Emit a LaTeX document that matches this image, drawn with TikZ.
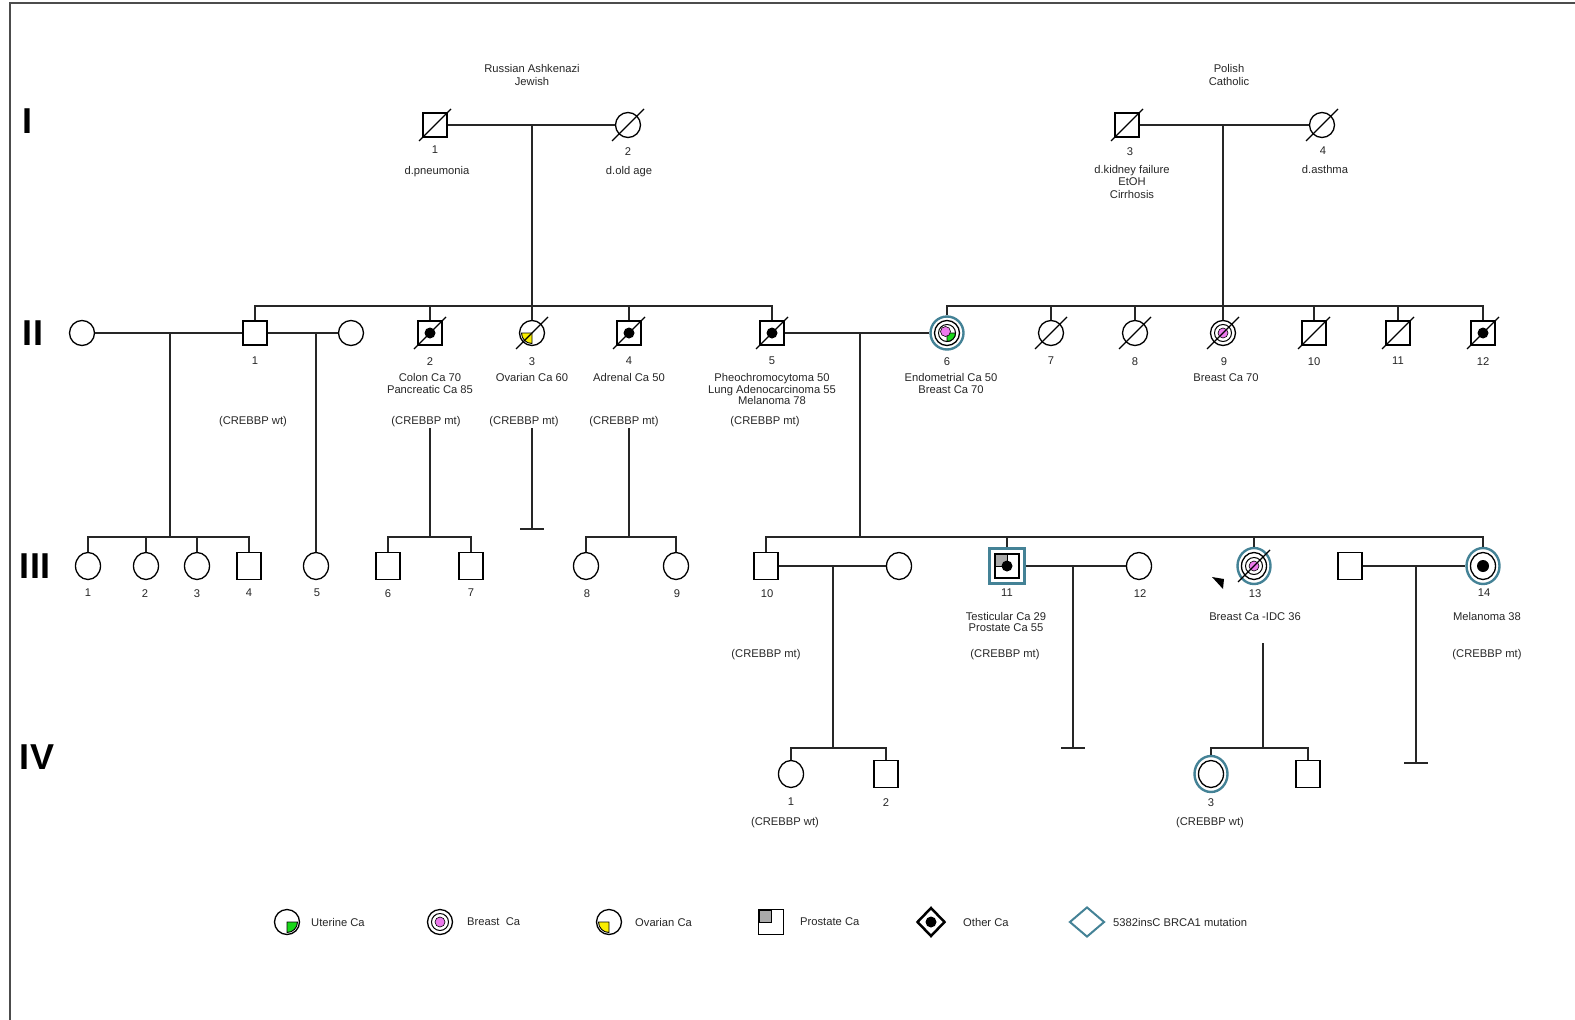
\documentclass[tikz,border=0pt]{standalone}
\usepackage{fontspec}
\setmainfont{Liberation Sans}
\usetikzlibrary{calc,shapes.geometric}
\definecolor{brca}{RGB}{68,130,150}
\definecolor{breastpink}{RGB}{236,122,236}
\definecolor{uterinegreen}{RGB}{25,215,25}
\definecolor{ovarianyellow}{RGB}{250,238,0}
\definecolor{prostategrey}{RGB}{170,170,170}
\tikzset{
  male/.style={draw, rectangle, minimum width=24pt, minimum height=24pt, inner sep=0pt, line width=1.3pt, fill=white},
  female/.style={draw, ellipse, minimum width=25pt, minimum height=25pt, inner sep=0pt, line width=1.3pt, fill=white},
  tall/.style={minimum height=27pt},
  brcaring/.style={draw=brca, ellipse, minimum width=33pt, minimum height=33pt, inner sep=0pt, line width=2.4pt},
  brcabox/.style={draw=brca, rectangle, minimum size=35pt, inner sep=0pt, line width=2.4pt},
  rel/.style={line width=1.3pt, draw=black!85},
  lbl/.style={font=\fontsize{11.2}{11.5}\selectfont, text=black!85, align=center, inner sep=0pt, anchor=north},
  genlbl/.style={font=\fontsize{36}{36}\selectfont\bfseries, inner sep=0pt}
}
\def\dead(#1){\draw[line width=1.1pt] ($(#1.center)+(-16,16)$) -- ($(#1.center)+(16,-16)$);}
\def\otherca(#1){\fill (#1.center) circle (5.5pt);}
\def\breastca(#1){\draw[line width=1pt] (#1.center) circle (8.5pt); \filldraw[fill=breastpink, line width=0.6pt] (#1.center) circle (5pt);}
\def\uterineca[#1](#2){\filldraw[fill=uterinegreen, line width=0.9pt] (#2.center) -- ++(#1,0) arc (0:-90:#1pt) -- cycle;}
\def\ovarianca[#1](#2){\filldraw[fill=ovarianyellow, line width=0.9pt] (#2.center) -- ++(-#1,0) arc (180:270:#1pt) -- cycle;}
\def\prostateca(#1){\filldraw[fill=prostategrey, line width=0.9pt] (#1.center) rectangle ++(-12,-12);}
\def\crossbar(#1){\draw[rel] ($(#1)+(-12,0)$) -- ($(#1)+(12,0)$);}

\begin{document}
\begin{tikzpicture}[x=1pt,y=-1pt]
	%%%%% START %%%%%
	\useasboundingbox (0,0) rectangle (1575,1020);
	\draw[line width=1.8pt, black!70] (10,1020) -- (10,3) -- (1575,3);
	
	\node[genlbl] (gI) at (28,121) {I};
	\node[genlbl] (gII) at (33,333) {II};
	\node[genlbl] (gIII) at (35,566) {III};
	\node[genlbl] (gIV) at (37,757) {IV};
	
	% generation I
	\node[male] (I1) at (435,125) {};
	\node[female] (I2) at (628,125) {};
	\node[male] (I3) at (1127,125) {};
	\node[female] (I4) at (1322,125) {};
	\coordinate (mI12) at (532,125);
	\coordinate (mI34) at (1223,125);
	\draw[rel] (I1) -- (I2);
	\draw[rel] (I3) -- (I4);
	\dead(I1) \dead(I2) \dead(I3) \dead(I4)
	
	\node[lbl, font=\fontsize{11.2}{13}\selectfont] (tI12) at (532,64) {Russian Ashkenazi\\Jewish};
	\node[lbl, font=\fontsize{11.2}{13}\selectfont] (tI34) at (1229,64) {Polish\\Catholic};
	\node[lbl] (nI1) at (435,146) {1};
	\node[lbl] (nI2) at (628,147) {2};
	\node[lbl] (nI3) at (1130,147) {3};
	\node[lbl] (nI4) at (1323,147) {4};
	\node[lbl] (tI1) at (437,166) {d.pneumonia};
	\node[lbl] (tI2) at (629,166) {d.old age};
	\node[lbl, font=\fontsize{11.2}{12.5}\selectfont] (tI3) at (1132,165) {d.kidney failure\\EtOH\\Cirrhosis};
	\node[lbl] (tI4) at (1325,165) {d.asthma};
	
	% generation II
	\node[female] (IIa) at (82,333) {};
	\node[male] (II1) at (255,333) {};
	\node[female] (IIb) at (351,333) {};
	\node[male] (II2) at (430,333) {};
	\node[female] (II3) at (532,333) {};
	\node[male] (II4) at (629,333) {};
	\node[male] (II5) at (772,333) {};
	\node[brcaring] (II6r) at (947,333) {};
	\node[female] (II6) at (947,333) {};
	\node[female] (II7) at (1051,333) {};
	\node[female] (II8) at (1135,333) {};
	\node[female] (II9) at (1223,333) {};
	\node[male] (II10) at (1314,333) {};
	\node[male] (II11) at (1398,333) {};
	\node[male] (II12) at (1483,333) {};
	
	\coordinate (sII) at (532,306);
	\coordinate (sIIr) at (1223,306);
	\draw[rel] (mI12) -- (sII);
	\draw[rel] (mI34) -- (sIIr);
	\draw[rel] (II1.north) |- (sII) -| (II5.north);
	\draw[rel] (II2.north) -- (II2.north |- sII);
	\draw[rel] (II3.north) -- (II3.north |- sII);
	\draw[rel] (II4.north) -- (II4.north |- sII);
	\draw[rel] (II6r.north) |- (sIIr) -| (II12.north);
	\draw[rel] (II7.north) -- (II7.north |- sIIr);
	\draw[rel] (II8.north) -- (II8.north |- sIIr);
	\draw[rel] (II9.north) -- (II9.north |- sIIr);
	\draw[rel] (II10.north) -- (II10.north |- sIIr);
	\draw[rel] (II11.north) -- (II11.north |- sIIr);
	
	\otherca(II2) \dead(II2)
	\ovarianca[10.5](II3) \dead(II3)
	\otherca(II4) \dead(II4)
	\otherca(II5) \dead(II5)
	\draw[line width=1pt] (II6.center) circle (8.5pt);
	\uterineca[8.5](II6)
	\filldraw[fill=breastpink, line width=0.6pt] ($(II6.center)+(-1.5,-1.5)$) circle (5pt);
	\dead(II7) \dead(II8)
	\breastca(II9) \dead(II9)
	\dead(II10) \dead(II11)
	\otherca(II12) \dead(II12)
	
	\node[lbl] (nII1) at (255,357) {1};
	\node[lbl] (nII2) at (430,357) {2};
	\node[lbl] (nII3) at (532,357) {3};
	\node[lbl] (nII4) at (629,357) {4};
	\node[lbl] (nII5) at (772,357) {5};
	\node[lbl] (nII6) at (947,357) {6};
	\node[lbl] (nII7) at (1051,357) {7};
	\node[lbl] (nII8) at (1135,357) {8};
	\node[lbl] (nII9) at (1224,357) {9};
	\node[lbl] (nII10) at (1314,357) {10};
	\node[lbl] (nII11) at (1398,357) {11};
	\node[lbl] (nII12) at (1483,357) {12};
	
	\node[lbl] (tII2) at (430,373.5) {Colon Ca 70\\Pancreatic Ca 85};
	\node[lbl] (tII3) at (532,373.5) {Ovarian Ca 60};
	\node[lbl] (tII4) at (629,373.5) {Adrenal Ca 50};
	\node[lbl] (tII5) at (772,373.5) {Pheochromocytoma 50\\Lung Adenocarcinoma 55\\Melanoma 78};
	\node[lbl] (tII6) at (951,373.5) {Endometrial Ca 50\\Breast Ca 70};
	\node[lbl] (tII9) at (1226,373.5) {Breast Ca 70};
	
	\node[lbl] (cII1) at (253,416) {(CREBBP wt)};
	\node[lbl] (cII2) at (426,416) {(CREBBP mt)};
	\node[lbl] (cII3) at (524,416) {(CREBBP mt)};
	\node[lbl] (cII4) at (624,416) {(CREBBP mt)};
	\node[lbl] (cII5) at (765,416) {(CREBBP mt)};
	
	% generation III
	\node[female, tall] (III1) at (88,566) {};
	\node[female, tall] (III2) at (146,566) {};
	\node[female, tall] (III3) at (197,566) {};
	\node[male, tall] (III4) at (249,566) {};
	\node[female, tall] (III5) at (316,566) {};
	\node[male, tall] (III6) at (388,566) {};
	\node[male, tall] (III7) at (471,566) {};
	\node[female, tall] (III8) at (586,566) {};
	\node[female, tall] (III9) at (676,566) {};
	\node[male, tall] (III10) at (766,566) {};
	\node[female, tall] (IIIa) at (899,566) {};
	\node[brcabox] (III11r) at (1007,566) {};
	\node[male] (III11) at (1007,566) {};
	\node[female, tall] (III12) at (1139,566) {};
	\node[brcaring, minimum height=36pt] (III13r) at (1254,566) {};
	\node[female, tall] (III13) at (1254,566) {};
	\node[male, tall] (IIIb) at (1350,566) {};
	\node[brcaring, minimum height=36pt] (III14r) at (1483,566) {};
	\node[female, tall] (III14) at (1483,566) {};
	
	\coordinate (mIIa) at (170,333);
	\coordinate (sIIIa) at (170,537);
	\draw[rel] (IIa) -- (II1);
	\draw[rel] (mIIa) -- (sIIIa);
	\draw[rel] (III1.north) |- (sIIIa) -| (III4.north);
	\draw[rel] (III2.north) -- (III2.north |- sIIIa);
	\draw[rel] (III3.north) -- (III3.north |- sIIIa);
	
	\coordinate (mIIb) at (316,333);
	\draw[rel] (II1) -- (IIb);
	\draw[rel] (mIIb) -- (III5.north);
	
	\coordinate (dII2) at (430,428);
	\coordinate (sIIIb) at (430,537);
	\draw[rel] (dII2) -- (sIIIb);
	\draw[rel] (III6.north) |- (sIIIb) -| (III7.north);
	
	\coordinate (dII3) at (532,428);
	\coordinate (nII3end) at (532,529);
	\draw[rel] (dII3) -- (nII3end);
	\crossbar(nII3end)
	
	\coordinate (dII4) at (629,428);
	\coordinate (sIIIc) at (629,537);
	\draw[rel] (dII4) -- (sIIIc);
	\draw[rel] (III8.north) |- (sIIIc) -| (III9.north);
	
	\coordinate (mII56) at (860,333);
	\coordinate (sIIId) at (860,537);
	\draw[rel] (II5) -- (II6r);
	\draw[rel] (mII56) -- (sIIId);
	\draw[rel] (III10.north) |- (sIIId) -| (III14r.north);
	\draw[rel] (III11r.north) -- (III11r.north |- sIIId);
	\draw[rel] (III13r.north) -- (III13r.north |- sIIId);
	
	\prostateca(III11) \otherca(III11)
	\breastca(III13) \dead(III13)
	\fill (III14.center) circle (6pt);
	\fill (1212,577) -- (1224,579) -- (1223,589) -- cycle;
	
	\node[lbl] (nIII1) at (88,589) {1};
	\node[lbl] (nIII2) at (145,589) {2};
	\node[lbl] (nIII3) at (197,589) {3};
	\node[lbl] (nIII4) at (249,589) {4};
	\node[lbl] (nIII5) at (317,589) {5};
	\node[lbl] (nIII6) at (388,589) {6};
	\node[lbl] (nIII7) at (471,589) {7};
	\node[lbl] (nIII8) at (587,589) {8};
	\node[lbl] (nIII9) at (677,589) {9};
	\node[lbl] (nIII10) at (767,589) {10};
	\node[lbl] (nIII11) at (1007,589) {11};
	\node[lbl] (nIII12) at (1140,589) {12};
	\node[lbl] (nIII13) at (1255,589) {13};
	\node[lbl] (nIII14) at (1484,589) {14};
	
	\node[lbl, font=\fontsize{11.2}{10.8}\selectfont] (tIII11) at (1006,612) {Testicular Ca 29\\Prostate Ca 55};
	\node[lbl] (tIII13) at (1255,612) {Breast Ca -IDC 36};
	\node[lbl] (tIII14) at (1487,612) {Melanoma 38};
	
	\node[lbl] (cIII10) at (766,649) {(CREBBP mt)};
	\node[lbl] (cIII11) at (1005,649) {(CREBBP mt)};
	\node[lbl] (cIII14) at (1487,649) {(CREBBP mt)};
	
	% generation IV
	\node[female, tall] (IV1) at (791,774) {};
	\node[male, tall] (IV2) at (886,774) {};
	\node[brcaring, minimum height=36pt] (IV3r) at (1211,774) {};
	\node[female, tall] (IV3) at (1211,774) {};
	\node[male, tall] (IVa) at (1308,774) {};
	
	\coordinate (mIII10) at (833,566);
	\coordinate (sIVa) at (833,748);
	\draw[rel] (III10) -- (IIIa);
	\draw[rel] (mIII10) -- (sIVa);
	\draw[rel] (IV1.north) |- (sIVa) -| (IV2.north);
	
	\coordinate (mIII11) at (1073,566);
	\coordinate (nIII11end) at (1073,748);
	\draw[rel] (III11r) -- (III12);
	\draw[rel] (mIII11) -- (nIII11end);
	\crossbar(nIII11end)
	
	\coordinate (dIII13) at (1263,643);
	\coordinate (sIVb) at (1263,748);
	\draw[rel] (dIII13) -- (sIVb);
	\draw[rel] (IV3r.north) |- (sIVb) -| (IVa.north);
	
	\coordinate (mIII14) at (1416,566);
	\coordinate (nIII14end) at (1416,763);
	\draw[rel] (IIIb) -- (III14r);
	\draw[rel] (mIII14) -- (nIII14end);
	\crossbar(nIII14end)
	
	\node[lbl] (nIV1) at (791,798) {1};
	\node[lbl] (nIV2) at (886,798) {2};
	\node[lbl] (nIV3) at (1211,798) {3};
	\node[lbl] (cIV1) at (785,817) {(CREBBP wt)};
	\node[lbl] (cIV3) at (1210,817) {(CREBBP wt)};
	
	% legend
	\node[female] (legU) at (287,922) {};
	\uterineca[10.5](legU)
	\node[female] (legB) at (440,922) {};
	\breastca(legB)
	\node[female] (legO) at (609,922) {};
	\ovarianca[10.5](legO)
	\node[male, minimum size=25pt] (legP) at (771,922) {};
	\prostateca(legP)
	\node[diamond, draw, line width=2.5pt, minimum width=28pt, minimum height=29pt, inner sep=0pt] (legX) at (931,922) {};
	\otherca(legX)
	\node[diamond, draw=brca, line width=2pt, minimum width=35pt, minimum height=30pt, inner sep=0pt] (legM) at (1087,922) {};
	
	\node[lbl, anchor=west] (tlegU) at (311,922) {Uterine Ca};
	\node[lbl, anchor=west] (tlegB) at (467,922) {Breast\ \ Ca};
	\node[lbl, anchor=west] (tlegO) at (635,922) {Ovarian Ca};
	\node[lbl, anchor=west] (tlegP) at (800,922) {Prostate Ca};
	\node[lbl, anchor=west] (tlegX) at (963,922) {Other Ca};
	\node[lbl, anchor=west] (tlegM) at (1113,922) {5382insC BRCA1 mutation};
	%%%%% END %%%%%
\end{tikzpicture}
\end{document}
